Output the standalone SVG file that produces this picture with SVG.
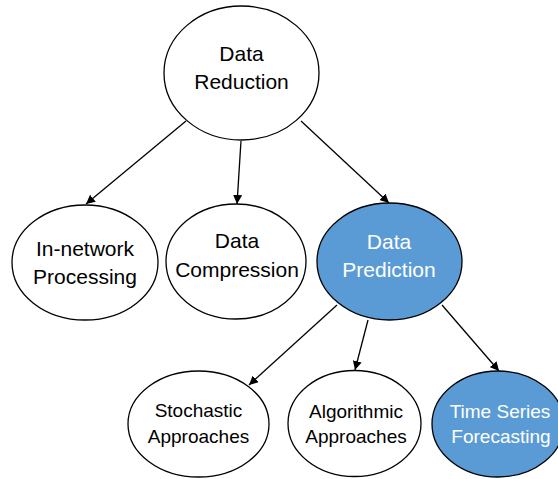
<svg xmlns="http://www.w3.org/2000/svg" width="558" height="479" viewBox="0 0 558 479">
<defs>
<marker id="arr" viewBox="0 0 10 10" refX="10" refY="5" markerWidth="9" markerHeight="9" markerUnits="userSpaceOnUse" orient="auto">
<path d="M0,0 L10,5 L0,10 z" fill="#000"/>
</marker>
<style>
.n{fill:#fff;stroke:#000;stroke-width:1.3}
.b{fill:#5B9BD5;stroke:#000;stroke-width:1.3}
.t{font-family:"Liberation Sans",Arial,sans-serif;font-size:21px;text-anchor:middle;fill:#000}
.s{font-family:"Liberation Sans",Arial,sans-serif;font-size:19px;text-anchor:middle;fill:#000}
.w{fill:#fff}
.c line{stroke:#000;stroke-width:1.3;marker-end:url(#arr)}
</style>
</defs>
<rect width="558" height="479" fill="#fff"/>
<g class="c" id="connectors">
<line x1="186" y1="121" x2="86" y2="204"/>
<line x1="241" y1="141" x2="237" y2="204"/>
<line x1="301" y1="121" x2="389" y2="203"/>
<line x1="337" y1="305" x2="249" y2="385"/>
<line x1="368" y1="320" x2="355" y2="370"/>
<line x1="442" y1="305" x2="499" y2="371"/>
</g>
<g id="data-reduction">
<ellipse class="n" cx="241.5" cy="73" rx="77.5" ry="67"/>
<text class="t" x="241.5" y="61">Data</text>
<text class="t" x="241.5" y="89">Reduction</text>
</g>
<g id="in-network">
<ellipse class="n" cx="85" cy="262.5" rx="73" ry="57.5"/>
<text class="t" x="85" y="256">In-network</text>
<text class="t" x="85" y="284">Processing</text>
</g>
<g id="data-compression">
<ellipse class="n" cx="236" cy="261.5" rx="70" ry="57.5"/>
<text class="t" x="237" y="248">Data</text>
<text class="t" x="237" y="277">Compression</text>
</g>
<g id="data-prediction">
<ellipse class="b" cx="389.5" cy="261.5" rx="72.5" ry="58.5"/>
<text class="t w" x="389" y="249">Data</text>
<text class="t w" x="389" y="277">Prediction</text>
</g>
<g id="stochastic">
<ellipse class="n" cx="198.5" cy="424" rx="70.5" ry="53"/>
<text class="s" x="198.5" y="417">Stochastic</text>
<text class="s" x="198.5" y="443">Approaches</text>
</g>
<g id="algorithmic">
<ellipse class="n" cx="354.5" cy="423.5" rx="66.5" ry="53"/>
<text class="s" x="356" y="418">Algorithmic</text>
<text class="s" x="356" y="443">Approaches</text>
</g>
<g id="time-series">
<ellipse class="b" cx="498" cy="424" rx="66" ry="53"/>
<text class="s w" x="500" y="418">Time Series</text>
<text class="s w" x="501" y="443">Forecasting</text>
</g>
</svg>
